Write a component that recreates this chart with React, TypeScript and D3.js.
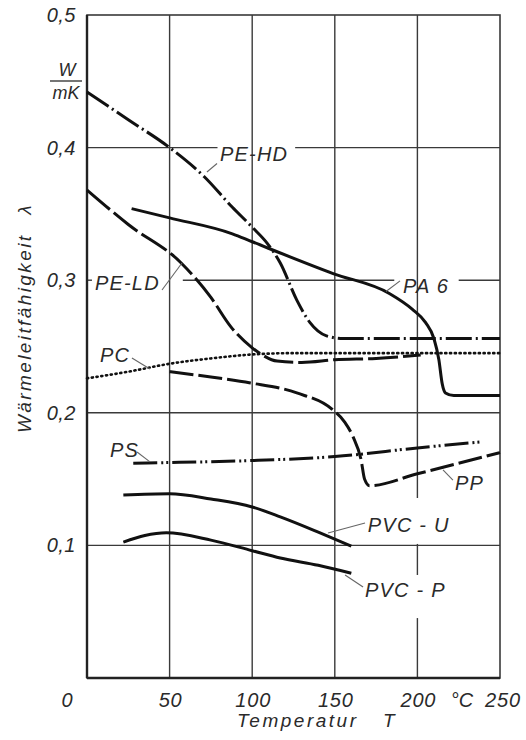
import React from 'react';
import * as d3 from 'd3';

// ---- data ----
const T_TICKS = [50, 100, 150, 200];
const T_TICK_LABELS = ['50', '100', '150', '200'];
const L_TICKS = [0.1, 0.2, 0.3, 0.4];
const L_TICK_LABELS = ['0,1', '0,2', '0,3', '0,4', '0,5'];
const L_TICK_VALUES = [0.1, 0.2, 0.3, 0.4, 0.5];

const PE_HD_T = [0, 25, 50, 71, 88, 100, 109, 117, 127, 135, 145, 155, 200, 250];
const PE_HD_L = [0.442, 0.421, 0.4, 0.378, 0.355, 0.34, 0.328, 0.313, 0.285, 0.268, 0.258, 0.256, 0.256, 0.256];

const PE_LD_T = [0, 25, 57, 75, 87, 100, 107, 115, 130, 150, 175, 202];
const PE_LD_L = [0.368, 0.342, 0.313, 0.287, 0.265, 0.249, 0.243, 0.239, 0.238, 0.24, 0.241, 0.2435];

const PA6_T = [27, 50, 88, 100, 149, 183, 197, 205, 210, 213, 215, 217, 222, 250];
const PA6_L = [0.354, 0.347, 0.335, 0.329, 0.305, 0.29, 0.278, 0.268, 0.256, 0.24, 0.222, 0.215, 0.213, 0.213];

const PC_T = [0, 25, 50, 75, 100, 125, 150, 200, 250];
const PC_L = [0.226, 0.231, 0.237, 0.241, 0.244, 0.245, 0.245, 0.245, 0.245];

const PP_T = [50, 75, 99, 127, 149, 156, 161, 166, 168, 171, 200, 250];
const PP_L = [0.231, 0.227, 0.2225, 0.215, 0.202, 0.193, 0.182, 0.164, 0.15, 0.145, 0.154, 0.17];

const PS_T = [28, 50, 100, 150, 200, 238];
const PS_L = [0.162, 0.1625, 0.164, 0.167, 0.1735, 0.178];

const PVC_U_T = [22, 50, 75, 100, 117, 140, 160];
const PVC_U_L = [0.138, 0.139, 0.135, 0.129, 0.1215, 0.11, 0.0995];

const PVC_P_T = [22, 35, 48, 75, 100, 117, 140, 160];
const PVC_P_L = [0.1025, 0.1075, 0.1095, 0.104, 0.096, 0.0905, 0.085, 0.079];

const SERIES = [
  { name: 'PE-HD', t: PE_HD_T, l: PE_HD_L, dash: '26,4,2,4' },
  { name: 'PE-LD', t: PE_LD_T, l: PE_LD_L, dash: '30,5' },
  { name: 'PA 6', t: PA6_T, l: PA6_L, dash: null },
  { name: 'PC', t: PC_T, l: PC_L, dash: '1.2,3.6' },
  { name: 'PP', t: PP_T, l: PP_L, dash: '24,5' },
  { name: 'PS', t: PS_T, l: PS_L, dash: '24,4,2,3,2,4' },
  { name: 'PVC - U', t: PVC_U_T, l: PVC_U_L, dash: null },
  { name: 'PVC - P', t: PVC_P_T, l: PVC_P_L, dash: null },
];

// label anchor (data units) and leader line (data units)
const LABELS = [
  { text: 'PE-HD', t: 80.5, l: 0.39, lead: [[72.6, 0.3816], [78.7, 0.388]] },
  { text: 'PE-LD', t: 4.8, l: 0.2926, lead: [[45.4, 0.2926], [57.5, 0.313]] },
  { text: 'PA 6', t: 191.3, l: 0.29, lead: [[181, 0.2915], [189.5, 0.2995]] },
  { text: 'PC', t: 7.9, l: 0.238, lead: [[27.2, 0.2413], [38.1, 0.233]] },
  { text: 'PS', t: 13.9, l: 0.1667, lead: [[30.3, 0.1704], [38.1, 0.163]] },
  { text: 'PP', t: 222.8, l: 0.1418, lead: [[221.5, 0.1493], [215.5, 0.157]] },
  { text: 'PVC - U', t: 170, l: 0.11, lead: [[168.3, 0.1169], [145.9, 0.1094]] },
  { text: 'PVC - P', t: 168.3, l: 0.061, lead: [[167.1, 0.0686], [156.2, 0.0777]] },
];

const W = 526;
const H = 740;
const FONT = '"Liberation Sans", Arial, sans-serif';

export default function App() {
  const x = d3.scaleLinear().domain([0, 250]).range([87, 500]);
  const y = d3.scaleLinear().domain([0, 0.5]).range([678, 15]);

  const line = d3
    .line<[number, number]>()
    .x((d) => x(d[0]))
    .y((d) => y(d[1]))
    .curve(d3.curveMonotoneX);

  // horizontal grid segments with gaps (data units along T)
  const hGaps: Record<string, [number, number][]> = {
    '0.4': [[79, 126]],
    '0.3': [[3, 58], [186, 225]],
  };
  const vGaps: Record<string, [number, number][]> = {
    '200': [[0.1011, 0.1357], [0.0452, 0.0777]],
  };

  const segs = (lo: number, hi: number, gaps: [number, number][] = []) => {
    const out: [number, number][] = [];
    let cur = lo;
    gaps
      .slice()
      .sort((a, b) => a[0] - b[0])
      .forEach(([a, b]) => {
        out.push([cur, a]);
        cur = b;
      });
    out.push([cur, hi]);
    return out;
  };

  const gridColor = '#3a3a3a';
  const textColor = '#2a2a2a';

  return (
    <svg
      width={W}
      height={H}
      style={{ position: 'absolute', left: 0, top: 0, background: '#fff' }}
      fontFamily={FONT}
    >
      <rect x={0} y={0} width={W} height={H} fill="#fff" />
      {/* grid */}
      {L_TICKS.map((v) =>
        segs(0, 250, hGaps[String(v)]).map(([a, b], i) => (
          <line
            key={`h${v}-${i}`}
            x1={x(a)}
            x2={x(b)}
            y1={y(v)}
            y2={y(v)}
            stroke={gridColor}
            strokeWidth={1.4}
          />
        ))
      )}
      {T_TICKS.map((v) =>
        segs(0, 0.5, vGaps[String(v)]).map(([a, b], i) => (
          <line
            key={`v${v}-${i}`}
            x1={x(v)}
            x2={x(v)}
            y1={y(a)}
            y2={y(b)}
            stroke={gridColor}
            strokeWidth={1.4}
          />
        ))
      )}
      {/* frame */}
      <rect
        x={x(0)}
        y={y(0.5)}
        width={x(250) - x(0)}
        height={y(0) - y(0.5)}
        fill="none"
        stroke={gridColor}
        strokeWidth={1.6}
      />
      <line x1={x(0)} x2={x(0)} y1={y(0.5)} y2={y(0)} stroke="#222" strokeWidth={2.4} />
      <line x1={x(0)} x2={x(250)} y1={y(0)} y2={y(0)} stroke="#222" strokeWidth={2.4} />

      {/* curves */}
      {SERIES.map((s) => {
        const pts = s.t.map((t, i) => [t, s.l[i]] as [number, number]);
        return (
          <path
            key={s.name}
            d={line(pts) || ''}
            fill="none"
            stroke="#111"
            strokeWidth={s.name === 'PC' ? 2.6 : 3}
            strokeDasharray={s.dash || undefined}
            strokeLinecap={s.name === 'PC' ? 'round' : 'butt'}
            strokeLinejoin="round"
          />
        );
      })}

      {/* leaders and labels */}
      {LABELS.map((lb) => (
        <g key={lb.text}>
          <line
            x1={x(lb.lead[0][0])}
            y1={y(lb.lead[0][1])}
            x2={x(lb.lead[1][0])}
            y2={y(lb.lead[1][1])}
            stroke="#666"
            strokeWidth={1.1}
          />
          <text
            x={x(lb.t)}
            y={y(lb.l)}
            fontSize={20}
            fontStyle="italic"
            letterSpacing={1.2}
            fill={textColor}
          >
            {lb.text}
          </text>
        </g>
      ))}

      {/* y tick labels */}
      {L_TICK_VALUES.map((v, i) => (
        <text
          key={`yl${v}`}
          x={76}
          y={y(v) + 7}
          textAnchor="end"
          fontSize={20}
          fontStyle="italic"
          letterSpacing={0.5}
          fill={textColor}
        >
          {L_TICK_LABELS[i]}
        </text>
      ))}
      {/* x tick labels */}
      <text x={67} y={707} textAnchor="middle" fontSize={20} fontStyle="italic" fill={textColor}>
        0
      </text>
      {T_TICKS.map((v, i) => (
        <text
          key={`xl${v}`}
          x={x(v) + 1}
          y={707}
          textAnchor="middle"
          fontSize={20}
          fontStyle="italic"
          letterSpacing={0.8}
          fill={textColor}
        >
          {T_TICK_LABELS[i]}
        </text>
      ))}
      <text x={462} y={707} textAnchor="middle" fontSize={20} fontStyle="italic" fill={textColor}>
        °C
      </text>
      <text x={x(250) + 3} y={707} textAnchor="middle" fontSize={20} fontStyle="italic" letterSpacing={0.8} fill={textColor}>
        250
      </text>

      {/* unit */}
      <text x={67} y={76} textAnchor="middle" fontSize={18} fontStyle="italic" fill={textColor}>
        W
      </text>
      <line x1={50} x2={82} y1={81} y2={81} stroke={textColor} strokeWidth={1.3} />
      <text x={66} y={99} textAnchor="middle" fontSize={18} fontStyle="italic" fill={textColor}>
        mK
      </text>

      {/* axis titles */}
      <text x={237} y={727} fontSize={19} fontStyle="italic" letterSpacing={2.5} fill={textColor}>
        Temperatur
      </text>
      <text x={383} y={727} fontSize={19} fontStyle="italic" fill={textColor}>
        T
      </text>
      <text
        transform="translate(31,433) rotate(-90)"
        fontSize={19}
        fontStyle="italic"
        letterSpacing={2.4}
        fill={textColor}
      >
        Wärmeleitfähigkeit
      </text>
      <text
        transform="translate(31,210) rotate(-90)"
        textAnchor="middle"
        fontSize={19}
        fontStyle="italic"
        fill={textColor}
      >
        λ
      </text>
    </svg>
  );
}
